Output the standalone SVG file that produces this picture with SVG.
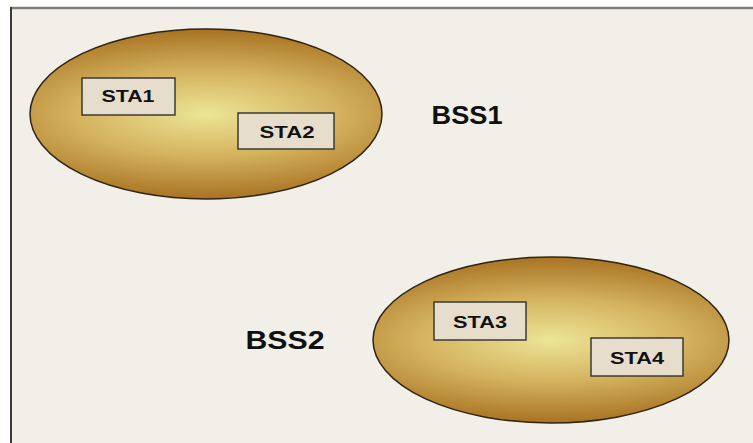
<svg xmlns="http://www.w3.org/2000/svg" width="753" height="443" viewBox="0 0 753 443">
<defs>
<radialGradient id="gold" cx="0.5" cy="0.5" r="0.5" gradientTransform="translate(0.5,0.5) scale(1.5,1) translate(-0.5,-0.5)">
<stop offset="0" stop-color="#ece596"/>
<stop offset="0.5" stop-color="#d4b25e"/>
<stop offset="1" stop-color="#a87322"/>
</radialGradient>
<style>
.bss{fill:url(#gold);stroke:#2e2414;stroke-width:1.5}
.sta{fill:#e7ddcc;stroke:#3c3a36;stroke-width:1.5}
.t{font-family:"Liberation Sans",Arial,sans-serif;font-weight:bold;fill:#111;text-anchor:middle}
.st{font-size:17px}
.bt{font-size:25px}
</style>
</defs>
<rect x="0" y="0" width="753" height="443" fill="#ffffff"/>
<rect x="10" y="7" width="743" height="436" fill="#f2efe8"/>
<line x1="10" y1="8" x2="753" y2="8" stroke="#7f7f7b" stroke-width="2.5"/>
<line x1="11" y1="7" x2="11" y2="443" stroke="#3a3a3a" stroke-width="2"/>
<g id="connectors"></g>
<g id="bss1">
<ellipse class="bss" cx="206" cy="114" rx="176" ry="85"/>
<text class="t bt" x="467" y="124" textLength="71" lengthAdjust="spacingAndGlyphs">BSS1</text>
</g>
<g id="sta1">
<rect class="sta" x="82" y="78" width="93" height="37"/>
<text class="t st" x="128" y="102" textLength="53" lengthAdjust="spacingAndGlyphs">STA1</text>
</g>
<g id="sta2">
<rect class="sta" x="238" y="113" width="96" height="36"/>
<text class="t st" x="287" y="138" textLength="55" lengthAdjust="spacingAndGlyphs">STA2</text>
</g>
<g id="bss2">
<ellipse class="bss" cx="551" cy="340" rx="178" ry="83"/>
<text class="t bt" x="285" y="349" textLength="79" lengthAdjust="spacingAndGlyphs">BSS2</text>
</g>
<g id="sta3">
<rect class="sta" x="434" y="302" width="92" height="38"/>
<text class="t st" x="480" y="328" textLength="54" lengthAdjust="spacingAndGlyphs">STA3</text>
</g>
<g id="sta4">
<rect class="sta" x="591" y="338" width="92" height="38"/>
<text class="t st" x="637" y="364" textLength="54" lengthAdjust="spacingAndGlyphs">STA4</text>
</g>
</svg>
